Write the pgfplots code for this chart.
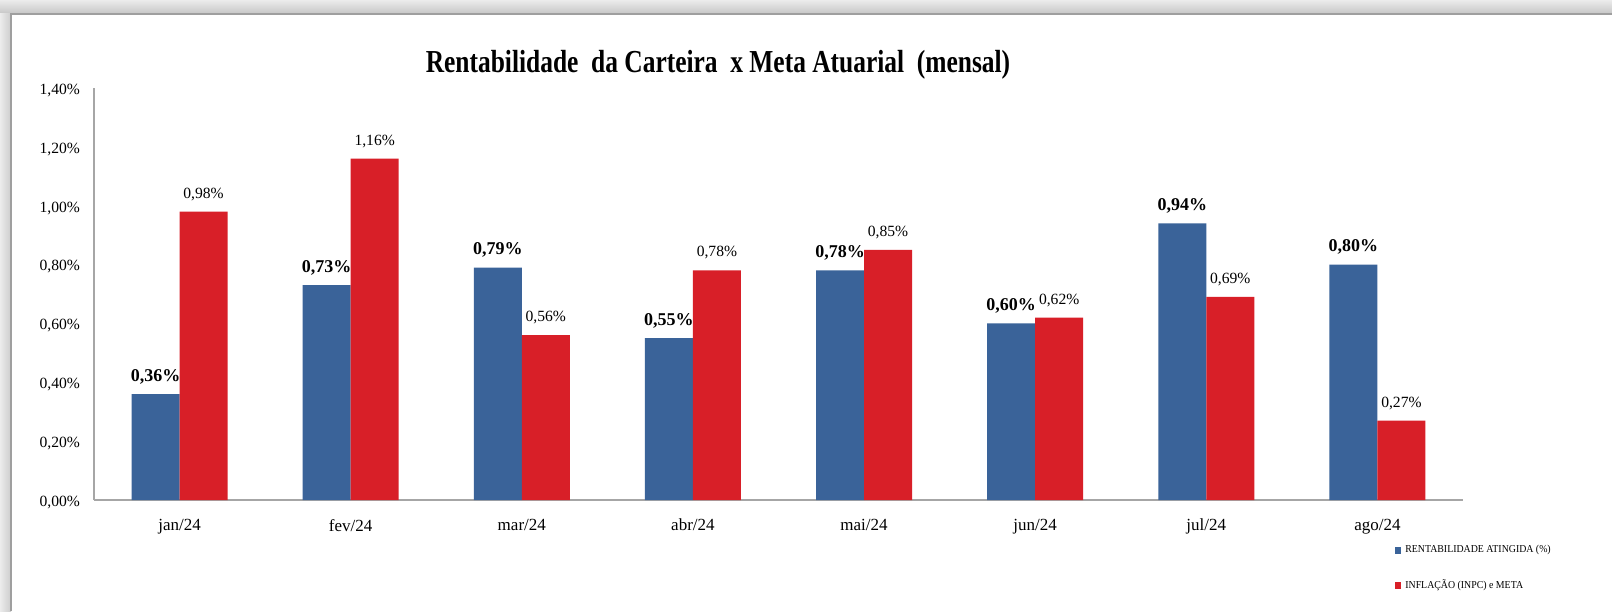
\documentclass[border=0pt]{standalone}
\usepackage{pgfplots}
\pgfplotsset{compat=1.18}
\usepackage{fontspec}
\setmainfont{Liberation Serif}
\definecolor{cblue}{HTML}{3A6399}
\definecolor{cred}{HTML}{D81F28}
\begin{document}
\begin{tikzpicture}
\useasboundingbox (0,0) rectangle (806pt,305.5pt);
% frame with shadow
\shade[top color=gray!15, bottom color=gray!45] (0,298.5pt) rectangle (806pt,305.5pt);
\shade[left color=gray!15, right color=gray!40] (0,0) rectangle (5.5pt,298.5pt);
\fill[white] (5.5pt,0) rectangle (806pt,298.5pt);
\draw[gray!75, line width=1pt] (5.5pt,0) -- (5.5pt,298.5pt) -- (806pt,298.5pt);
\begin{axis}[
  at={(47pt,55.5pt)}, anchor=south west,
  scale only axis, width=684.5pt, height=206pt,
  ybar=0pt, bar width=24pt,
  xmin=-0.5, xmax=7.5, ymin=0, ymax=1.4,
  axis x line*=bottom, axis y line*=left,
  axis line style={gray!70, line width=0.8pt, -},
  major tick length=0pt,
  xtick=data,
  xticklabels={jan/24,fev/24,mar/24,abr/24,mai/24,jun/24,jul/24,ago/24},
  ytick={0,0.2,0.4,0.6,0.8,1.0,1.2,1.4},
  yticklabels={{0,00\%},{0,20\%},{0,40\%},{0,60\%},{0,80\%},{1,00\%},{1,20\%},{1,40\%}},
  xticklabel style={font=\fontsize{8.5}{10}\selectfont, yshift=-6pt},
  yticklabel style={font=\fontsize{7.8}{9}\selectfont, xshift=-3.5pt, yshift=-1.2pt},
  nodes near coords,
  point meta=explicit symbolic,
  legend style={at={(0.950,-0.099)}, anchor=north west, draw=none, fill=none,
    font=\fontsize{5.3}{6}\selectfont, row sep=8pt, cells={anchor=west},
    inner sep=0pt},
  legend image code/.code={\fill[#1] (0pt,-1.6pt) rectangle (3.2pt,1.6pt);},
  clip=false,
]
\addplot[fill=cblue, draw=none, nodes near coords style={font=\bfseries\fontsize{9}{10}\selectfont, yshift=1.5pt}] table[meta=l] {
x y l
0 0.36 0,36\%
1 0.73 0,73\%
2 0.79 0,79\%
3 0.55 0,55\%
4 0.78 0,78\%
5 0.60 0,60\%
6 0.94 0,94\%
7 0.80 0,80\%
};
\addplot[fill=cred, draw=none, nodes near coords style={font=\fontsize{7.8}{9}\selectfont, yshift=2pt}] table[meta=l] {
x y l
0 0.98 0,98\%
1 1.16 1,16\%
2 0.56 0,56\%
3 0.78 0,78\%
4 0.85 0,85\%
5 0.62 0,62\%
6 0.69 0,69\%
7 0.27 0,27\%
};
\legend{\scalebox{0.93}[1]{RENTABILIDADE ATINGIDA (\%)}, \scalebox{0.93}[1]{INFLAÇÃO (INPC) e META}}
\end{axis}
\node[font=\bfseries\fontsize{16}{18}\selectfont] at (359pt,273pt) {\scalebox{0.795}[1]{Rentabilidade\ \ da Carteira\ \ x Meta Atuarial\ \ (mensal)}};
\end{tikzpicture}
\end{document}
